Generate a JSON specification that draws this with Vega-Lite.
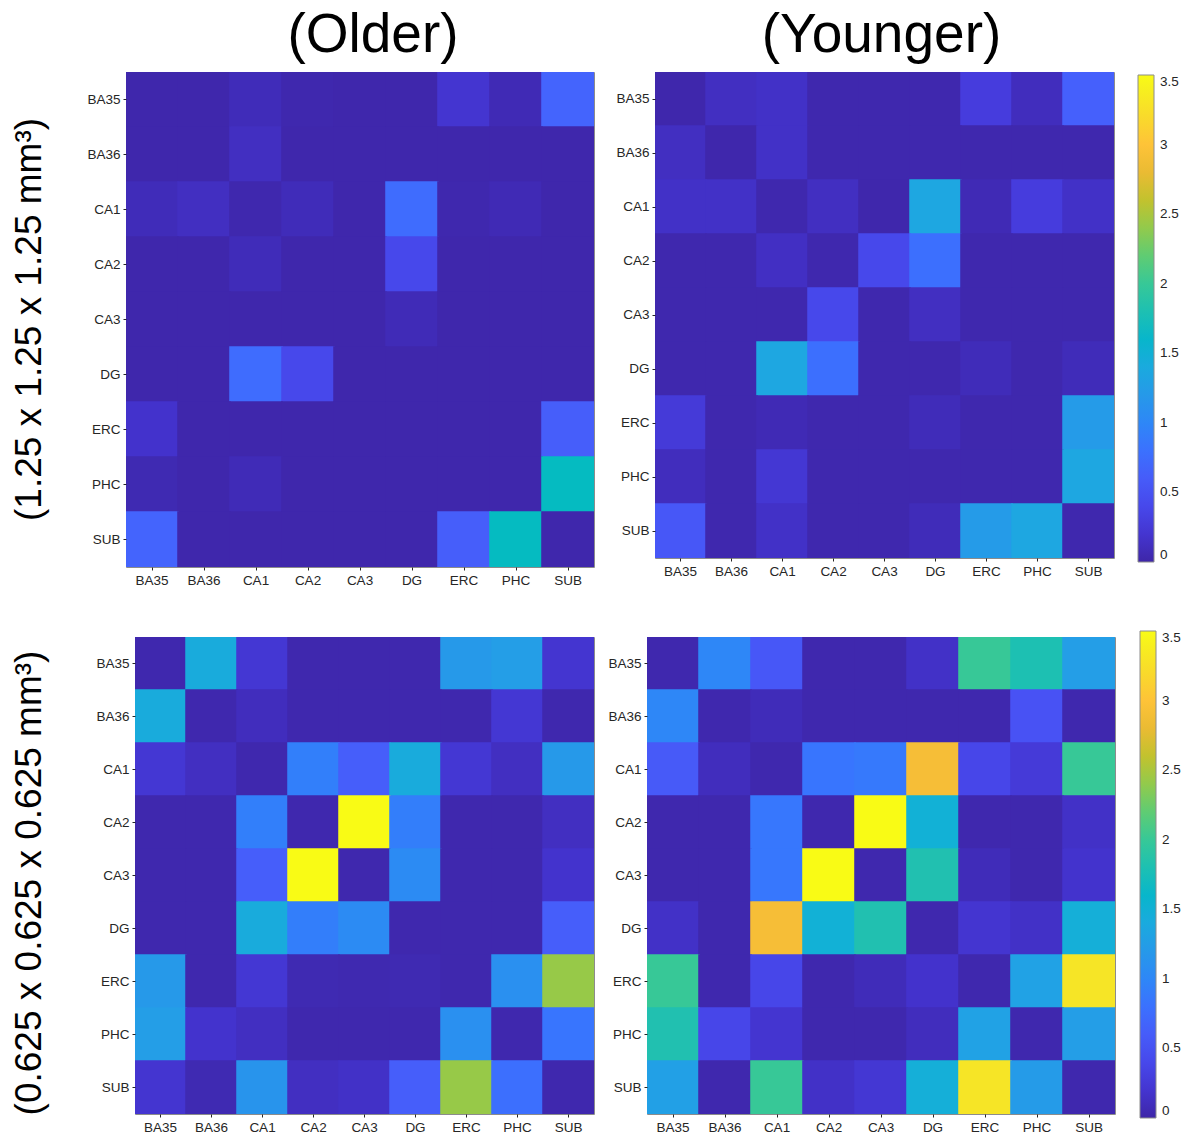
{
  "$schema": "https://vega.github.io/schema/vega-lite/v6.json",
  "background": "white",
  "padding": {"left": 3, "top": 7, "right": 5, "bottom": 5},
  "config": {
    "view": {"stroke": "#8c8c8c", "strokeWidth": 1},
    "axis": {"labelFont": "Liberation Sans", "labelFontSize": 13.5, "labelColor": "#262626", "tickColor": "#262626", "tickSize": 3, "domain": false, "grid": false, "labelPadding": 3},
    "title": {"font": "Liberation Sans", "fontSize": 55, "fontWeight": "normal", "color": "#000000"},
    "rect": {"strokeWidth": 0}
  },
  "datasets": {
    "tl": [
      {"r":"BA35","c":"BA35","v":0.02},{"r":"BA35","c":"BA36","v":0.02},{"r":"BA35","c":"CA1","v":0.08},{"r":"BA35","c":"CA2","v":0.03},{"r":"BA35","c":"CA3","v":0.02},{"r":"BA35","c":"DG","v":0.02},{"r":"BA35","c":"ERC","v":0.2},{"r":"BA35","c":"PHC","v":0.06},{"r":"BA35","c":"SUB","v":0.68},
      {"r":"BA36","c":"BA35","v":0.02},{"r":"BA36","c":"BA36","v":0.02},{"r":"BA36","c":"CA1","v":0.12},{"r":"BA36","c":"CA2","v":0.02},{"r":"BA36","c":"CA3","v":0.02},{"r":"BA36","c":"DG","v":0.02},{"r":"BA36","c":"ERC","v":0.02},{"r":"BA36","c":"PHC","v":0.02},{"r":"BA36","c":"SUB","v":0.02},
      {"r":"CA1","c":"BA35","v":0.08},{"r":"CA1","c":"BA36","v":0.12},{"r":"CA1","c":"CA1","v":0.03},{"r":"CA1","c":"CA2","v":0.08},{"r":"CA1","c":"CA3","v":0.02},{"r":"CA1","c":"DG","v":0.75},{"r":"CA1","c":"ERC","v":0.03},{"r":"CA1","c":"PHC","v":0.06},{"r":"CA1","c":"SUB","v":0.02},
      {"r":"CA2","c":"BA35","v":0.02},{"r":"CA2","c":"BA36","v":0.02},{"r":"CA2","c":"CA1","v":0.08},{"r":"CA2","c":"CA2","v":0.02},{"r":"CA2","c":"CA3","v":0.02},{"r":"CA2","c":"DG","v":0.4},{"r":"CA2","c":"ERC","v":0.02},{"r":"CA2","c":"PHC","v":0.02},{"r":"CA2","c":"SUB","v":0.02},
      {"r":"CA3","c":"BA35","v":0.02},{"r":"CA3","c":"BA36","v":0.02},{"r":"CA3","c":"CA1","v":0.02},{"r":"CA3","c":"CA2","v":0.02},{"r":"CA3","c":"CA3","v":0.02},{"r":"CA3","c":"DG","v":0.07},{"r":"CA3","c":"ERC","v":0.02},{"r":"CA3","c":"PHC","v":0.02},{"r":"CA3","c":"SUB","v":0.02},
      {"r":"DG","c":"BA35","v":0.02},{"r":"DG","c":"BA36","v":0.02},{"r":"DG","c":"CA1","v":0.75},{"r":"DG","c":"CA2","v":0.4},{"r":"DG","c":"CA3","v":0.02},{"r":"DG","c":"DG","v":0.02},{"r":"DG","c":"ERC","v":0.02},{"r":"DG","c":"PHC","v":0.02},{"r":"DG","c":"SUB","v":0.02},
      {"r":"ERC","c":"BA35","v":0.17},{"r":"ERC","c":"BA36","v":0.02},{"r":"ERC","c":"CA1","v":0.02},{"r":"ERC","c":"CA2","v":0.02},{"r":"ERC","c":"CA3","v":0.02},{"r":"ERC","c":"DG","v":0.02},{"r":"ERC","c":"ERC","v":0.02},{"r":"ERC","c":"PHC","v":0.02},{"r":"ERC","c":"SUB","v":0.62},
      {"r":"PHC","c":"BA35","v":0.05},{"r":"PHC","c":"BA36","v":0.02},{"r":"PHC","c":"CA1","v":0.07},{"r":"PHC","c":"CA2","v":0.02},{"r":"PHC","c":"CA3","v":0.02},{"r":"PHC","c":"DG","v":0.02},{"r":"PHC","c":"ERC","v":0.02},{"r":"PHC","c":"PHC","v":0.02},{"r":"PHC","c":"SUB","v":1.68},
      {"r":"SUB","c":"BA35","v":0.68},{"r":"SUB","c":"BA36","v":0.02},{"r":"SUB","c":"CA1","v":0.02},{"r":"SUB","c":"CA2","v":0.02},{"r":"SUB","c":"CA3","v":0.02},{"r":"SUB","c":"DG","v":0.02},{"r":"SUB","c":"ERC","v":0.62},{"r":"SUB","c":"PHC","v":1.68},{"r":"SUB","c":"SUB","v":0.02}
    ],
    "tr": [
      {"r":"BA35","c":"BA35","v":0.02},{"r":"BA35","c":"BA36","v":0.12},{"r":"BA35","c":"CA1","v":0.15},{"r":"BA35","c":"CA2","v":0.03},{"r":"BA35","c":"CA3","v":0.03},{"r":"BA35","c":"DG","v":0.03},{"r":"BA35","c":"ERC","v":0.28},{"r":"BA35","c":"PHC","v":0.1},{"r":"BA35","c":"SUB","v":0.64},
      {"r":"BA36","c":"BA35","v":0.12},{"r":"BA36","c":"BA36","v":0.02},{"r":"BA36","c":"CA1","v":0.15},{"r":"BA36","c":"CA2","v":0.03},{"r":"BA36","c":"CA3","v":0.03},{"r":"BA36","c":"DG","v":0.03},{"r":"BA36","c":"ERC","v":0.03},{"r":"BA36","c":"PHC","v":0.03},{"r":"BA36","c":"SUB","v":0.03},
      {"r":"CA1","c":"BA35","v":0.15},{"r":"CA1","c":"BA36","v":0.15},{"r":"CA1","c":"CA1","v":0.03},{"r":"CA1","c":"CA2","v":0.12},{"r":"CA1","c":"CA3","v":0.02},{"r":"CA1","c":"DG","v":1.36},{"r":"CA1","c":"ERC","v":0.06},{"r":"CA1","c":"PHC","v":0.28},{"r":"CA1","c":"SUB","v":0.15},
      {"r":"CA2","c":"BA35","v":0.03},{"r":"CA2","c":"BA36","v":0.03},{"r":"CA2","c":"CA1","v":0.13},{"r":"CA2","c":"CA2","v":0.03},{"r":"CA2","c":"CA3","v":0.4},{"r":"CA2","c":"DG","v":0.78},{"r":"CA2","c":"ERC","v":0.03},{"r":"CA2","c":"PHC","v":0.03},{"r":"CA2","c":"SUB","v":0.03},
      {"r":"CA3","c":"BA35","v":0.03},{"r":"CA3","c":"BA36","v":0.03},{"r":"CA3","c":"CA1","v":0.03},{"r":"CA3","c":"CA2","v":0.4},{"r":"CA3","c":"CA3","v":0.03},{"r":"CA3","c":"DG","v":0.12},{"r":"CA3","c":"ERC","v":0.03},{"r":"CA3","c":"PHC","v":0.03},{"r":"CA3","c":"SUB","v":0.03},
      {"r":"DG","c":"BA35","v":0.03},{"r":"DG","c":"BA36","v":0.03},{"r":"DG","c":"CA1","v":1.36},{"r":"DG","c":"CA2","v":0.78},{"r":"DG","c":"CA3","v":0.03},{"r":"DG","c":"DG","v":0.03},{"r":"DG","c":"ERC","v":0.08},{"r":"DG","c":"PHC","v":0.03},{"r":"DG","c":"SUB","v":0.08},
      {"r":"ERC","c":"BA35","v":0.25},{"r":"ERC","c":"BA36","v":0.03},{"r":"ERC","c":"CA1","v":0.06},{"r":"ERC","c":"CA2","v":0.03},{"r":"ERC","c":"CA3","v":0.03},{"r":"ERC","c":"DG","v":0.08},{"r":"ERC","c":"ERC","v":0.03},{"r":"ERC","c":"PHC","v":0.03},{"r":"ERC","c":"SUB","v":1.22},
      {"r":"PHC","c":"BA35","v":0.1},{"r":"PHC","c":"BA36","v":0.03},{"r":"PHC","c":"CA1","v":0.22},{"r":"PHC","c":"CA2","v":0.03},{"r":"PHC","c":"CA3","v":0.03},{"r":"PHC","c":"DG","v":0.03},{"r":"PHC","c":"ERC","v":0.03},{"r":"PHC","c":"PHC","v":0.03},{"r":"PHC","c":"SUB","v":1.36},
      {"r":"SUB","c":"BA35","v":0.55},{"r":"SUB","c":"BA36","v":0.03},{"r":"SUB","c":"CA1","v":0.15},{"r":"SUB","c":"CA2","v":0.03},{"r":"SUB","c":"CA3","v":0.03},{"r":"SUB","c":"DG","v":0.08},{"r":"SUB","c":"ERC","v":1.22},{"r":"SUB","c":"PHC","v":1.36},{"r":"SUB","c":"SUB","v":0.03}
    ],
    "bl": [
      {"r":"BA35","c":"BA35","v":0.03},{"r":"BA35","c":"BA36","v":1.42},{"r":"BA35","c":"CA1","v":0.22},{"r":"BA35","c":"CA2","v":0.03},{"r":"BA35","c":"CA3","v":0.03},{"r":"BA35","c":"DG","v":0.03},{"r":"BA35","c":"ERC","v":1.2},{"r":"BA35","c":"PHC","v":1.25},{"r":"BA35","c":"SUB","v":0.2},
      {"r":"BA36","c":"BA35","v":1.42},{"r":"BA36","c":"BA36","v":0.03},{"r":"BA36","c":"CA1","v":0.1},{"r":"BA36","c":"CA2","v":0.03},{"r":"BA36","c":"CA3","v":0.03},{"r":"BA36","c":"DG","v":0.03},{"r":"BA36","c":"ERC","v":0.03},{"r":"BA36","c":"PHC","v":0.22},{"r":"BA36","c":"SUB","v":0.03},
      {"r":"CA1","c":"BA35","v":0.22},{"r":"CA1","c":"BA36","v":0.12},{"r":"CA1","c":"CA1","v":0.03},{"r":"CA1","c":"CA2","v":0.93},{"r":"CA1","c":"CA3","v":0.62},{"r":"CA1","c":"DG","v":1.42},{"r":"CA1","c":"ERC","v":0.22},{"r":"CA1","c":"PHC","v":0.12},{"r":"CA1","c":"SUB","v":1.2},
      {"r":"CA2","c":"BA35","v":0.03},{"r":"CA2","c":"BA36","v":0.03},{"r":"CA2","c":"CA1","v":0.93},{"r":"CA2","c":"CA2","v":0.03},{"r":"CA2","c":"CA3","v":3.5},{"r":"CA2","c":"DG","v":0.92},{"r":"CA2","c":"ERC","v":0.03},{"r":"CA2","c":"PHC","v":0.03},{"r":"CA2","c":"SUB","v":0.12},
      {"r":"CA3","c":"BA35","v":0.03},{"r":"CA3","c":"BA36","v":0.03},{"r":"CA3","c":"CA1","v":0.62},{"r":"CA3","c":"CA2","v":3.5},{"r":"CA3","c":"CA3","v":0.03},{"r":"CA3","c":"DG","v":1.05},{"r":"CA3","c":"ERC","v":0.03},{"r":"CA3","c":"PHC","v":0.03},{"r":"CA3","c":"SUB","v":0.18},
      {"r":"DG","c":"BA35","v":0.03},{"r":"DG","c":"BA36","v":0.03},{"r":"DG","c":"CA1","v":1.42},{"r":"DG","c":"CA2","v":0.92},{"r":"DG","c":"CA3","v":1.05},{"r":"DG","c":"DG","v":0.03},{"r":"DG","c":"ERC","v":0.03},{"r":"DG","c":"PHC","v":0.03},{"r":"DG","c":"SUB","v":0.62},
      {"r":"ERC","c":"BA35","v":1.2},{"r":"ERC","c":"BA36","v":0.03},{"r":"ERC","c":"CA1","v":0.22},{"r":"ERC","c":"CA2","v":0.05},{"r":"ERC","c":"CA3","v":0.04},{"r":"ERC","c":"DG","v":0.05},{"r":"ERC","c":"ERC","v":0.03},{"r":"ERC","c":"PHC","v":1.1},{"r":"ERC","c":"SUB","v":2.42},
      {"r":"PHC","c":"BA35","v":1.25},{"r":"PHC","c":"BA36","v":0.18},{"r":"PHC","c":"CA1","v":0.12},{"r":"PHC","c":"CA2","v":0.03},{"r":"PHC","c":"CA3","v":0.03},{"r":"PHC","c":"DG","v":0.03},{"r":"PHC","c":"ERC","v":1.1},{"r":"PHC","c":"PHC","v":0.03},{"r":"PHC","c":"SUB","v":0.83},
      {"r":"SUB","c":"BA35","v":0.2},{"r":"SUB","c":"BA36","v":0.05},{"r":"SUB","c":"CA1","v":1.15},{"r":"SUB","c":"CA2","v":0.12},{"r":"SUB","c":"CA3","v":0.15},{"r":"SUB","c":"DG","v":0.62},{"r":"SUB","c":"ERC","v":2.42},{"r":"SUB","c":"PHC","v":0.78},{"r":"SUB","c":"SUB","v":0.03}
    ],
    "br": [
      {"r":"BA35","c":"BA35","v":0.03},{"r":"BA35","c":"BA36","v":1.0},{"r":"BA35","c":"CA1","v":0.55},{"r":"BA35","c":"CA2","v":0.03},{"r":"BA35","c":"CA3","v":0.03},{"r":"BA35","c":"DG","v":0.15},{"r":"BA35","c":"ERC","v":2.0},{"r":"BA35","c":"PHC","v":1.8},{"r":"BA35","c":"SUB","v":1.25},
      {"r":"BA36","c":"BA35","v":1.0},{"r":"BA36","c":"BA36","v":0.03},{"r":"BA36","c":"CA1","v":0.08},{"r":"BA36","c":"CA2","v":0.03},{"r":"BA36","c":"CA3","v":0.03},{"r":"BA36","c":"DG","v":0.03},{"r":"BA36","c":"ERC","v":0.03},{"r":"BA36","c":"PHC","v":0.5},{"r":"BA36","c":"SUB","v":0.03},
      {"r":"CA1","c":"BA35","v":0.58},{"r":"CA1","c":"BA36","v":0.1},{"r":"CA1","c":"CA1","v":0.03},{"r":"CA1","c":"CA2","v":0.83},{"r":"CA1","c":"CA3","v":0.87},{"r":"CA1","c":"DG","v":2.9},{"r":"CA1","c":"ERC","v":0.38},{"r":"CA1","c":"PHC","v":0.25},{"r":"CA1","c":"SUB","v":2.0},
      {"r":"CA2","c":"BA35","v":0.03},{"r":"CA2","c":"BA36","v":0.03},{"r":"CA2","c":"CA1","v":0.85},{"r":"CA2","c":"CA2","v":0.03},{"r":"CA2","c":"CA3","v":3.5},{"r":"CA2","c":"DG","v":1.5},{"r":"CA2","c":"ERC","v":0.03},{"r":"CA2","c":"PHC","v":0.03},{"r":"CA2","c":"SUB","v":0.15},
      {"r":"CA3","c":"BA35","v":0.03},{"r":"CA3","c":"BA36","v":0.03},{"r":"CA3","c":"CA1","v":0.85},{"r":"CA3","c":"CA2","v":3.5},{"r":"CA3","c":"CA3","v":0.03},{"r":"CA3","c":"DG","v":1.82},{"r":"CA3","c":"ERC","v":0.08},{"r":"CA3","c":"PHC","v":0.03},{"r":"CA3","c":"SUB","v":0.18},
      {"r":"DG","c":"BA35","v":0.15},{"r":"DG","c":"BA36","v":0.03},{"r":"DG","c":"CA1","v":2.9},{"r":"DG","c":"CA2","v":1.5},{"r":"DG","c":"CA3","v":1.82},{"r":"DG","c":"DG","v":0.03},{"r":"DG","c":"ERC","v":0.2},{"r":"DG","c":"PHC","v":0.15},{"r":"DG","c":"SUB","v":1.47},
      {"r":"ERC","c":"BA35","v":2.0},{"r":"ERC","c":"BA36","v":0.03},{"r":"ERC","c":"CA1","v":0.38},{"r":"ERC","c":"CA2","v":0.03},{"r":"ERC","c":"CA3","v":0.08},{"r":"ERC","c":"DG","v":0.17},{"r":"ERC","c":"ERC","v":0.03},{"r":"ERC","c":"PHC","v":1.3},{"r":"ERC","c":"SUB","v":3.3},
      {"r":"PHC","c":"BA35","v":1.82},{"r":"PHC","c":"BA36","v":0.38},{"r":"PHC","c":"CA1","v":0.2},{"r":"PHC","c":"CA2","v":0.03},{"r":"PHC","c":"CA3","v":0.03},{"r":"PHC","c":"DG","v":0.1},{"r":"PHC","c":"ERC","v":1.3},{"r":"PHC","c":"PHC","v":0.03},{"r":"PHC","c":"SUB","v":1.25},
      {"r":"SUB","c":"BA35","v":1.28},{"r":"SUB","c":"BA36","v":0.03},{"r":"SUB","c":"CA1","v":2.0},{"r":"SUB","c":"CA2","v":0.15},{"r":"SUB","c":"CA3","v":0.22},{"r":"SUB","c":"DG","v":1.47},{"r":"SUB","c":"ERC","v":3.3},{"r":"SUB","c":"PHC","v":1.22},{"r":"SUB","c":"SUB","v":0.03}
    ]
  },
  "resolve": {"scale": {"color": "independent"}, "legend": {"color": "independent"}},
  "spacing": 43,
  "vconcat": [
    {
      "spacing": 29,
      "resolve": {"scale": {"color": "independent"}, "legend": {"color": "independent"}},
      "hconcat": [
        {
          "width": 54, "height": 495,
          "view": {"stroke": null},
          "data": {"values": [{"label": "(1.25 x 1.25 x 1.25 mm³)"}]},
          "mark": {"type": "text", "angle": 270, "font": "Liberation Sans", "fontSize": 37, "color": "#000000", "align": "center", "baseline": "middle"},
          "encoding": {"text": {"field": "label", "type": "nominal"}}
        },
        {
          "spacing": 20,
          "resolve": {"scale": {"color": "independent"}, "legend": {"color": "independent"}},
          "hconcat": [
            {
              "width": 468, "height": 495,
              "title": {"text": "(Older)", "offset": 8, "dx": 13},
              "data": {"name": "tl"},
              "mark": {"type": "rect", "width": {"band": 1.03}, "height": {"band": 1.03}, "clip": true},
              "encoding": {
                "x": {"field": "c", "type": "nominal", "sort": ["BA35","BA36","CA1","CA2","CA3","DG","ERC","PHC","SUB"], "axis": {"title": null, "labelAngle": 0}},
                "y": {"field": "r", "type": "nominal", "sort": ["BA35","BA36","CA1","CA2","CA3","DG","ERC","PHC","SUB"], "axis": {"title": null}},
                "color": {"field": "v", "type": "quantitative", "legend": null,
                  "scale": {"domain": [0,0.1667,0.3333,0.5,0.6667,0.8333,1,1.1667,1.3333,1.5,1.6667,1.8333,2,2.1667,2.3333,2.5,2.6667,2.8333,3,3.1667,3.3333,3.5],
                    "range": ["#3e26a8","#4332cb","#4741e5","#4852f4","#4563fd","#3875fe","#2e87f7","#2796eb","#20a5e3","#12b1d6","#02bac3","#24c1ae","#37c897","#57cc7a","#81cc59","#abc739","#d1bf27","#f0ba36","#fec338","#fad62d","#f5e924","#f9fb15"], "interpolate": "rgb"}}
              }
            },
            {
              "width": 459, "height": 486,
              "title": {"text": "(Younger)", "offset": 8, "dx": -3},
              "data": {"name": "tr"},
              "mark": {"type": "rect", "width": {"band": 1.03}, "height": {"band": 1.03}, "clip": true},
              "encoding": {
                "x": {"field": "c", "type": "nominal", "sort": ["BA35","BA36","CA1","CA2","CA3","DG","ERC","PHC","SUB"], "axis": {"title": null, "labelAngle": 0}},
                "y": {"field": "r", "type": "nominal", "sort": ["BA35","BA36","CA1","CA2","CA3","DG","ERC","PHC","SUB"], "axis": {"title": null}},
                "color": {"field": "v", "type": "quantitative",
                  "legend": {"orient": "none", "legendX": 483, "legendY": 3, "direction": "vertical", "gradientLength": 487, "gradientThickness": 16, "title": null, "values": [0,0.5,1,1.5,2,2.5,3,3.5], "format": "~g", "labelFont": "Liberation Sans", "labelFontSize": 13.5, "labelColor": "#262626", "gradientStrokeColor": "#8c8c8c", "gradientStrokeWidth": 1, "labelOffset": 6},
                  "scale": {"domain": [0,0.1667,0.3333,0.5,0.6667,0.8333,1,1.1667,1.3333,1.5,1.6667,1.8333,2,2.1667,2.3333,2.5,2.6667,2.8333,3,3.1667,3.3333,3.5],
                    "range": ["#3e26a8","#4332cb","#4741e5","#4852f4","#4563fd","#3875fe","#2e87f7","#2796eb","#20a5e3","#12b1d6","#02bac3","#24c1ae","#37c897","#57cc7a","#81cc59","#abc739","#d1bf27","#f0ba36","#fec338","#fad62d","#f5e924","#f9fb15"], "interpolate": "rgb"}}
              }
            }
          ]
        }
      ]
    },
    {
      "spacing": 38,
      "resolve": {"scale": {"color": "independent"}, "legend": {"color": "independent"}},
      "hconcat": [
        {
          "width": 54, "height": 492,
          "view": {"stroke": null},
          "data": {"values": [{"label": "(0.625 x 0.625 x 0.625 mm³)"}]},
          "mark": {"type": "text", "angle": 270, "font": "Liberation Sans", "fontSize": 37, "color": "#000000", "align": "center", "baseline": "middle"},
          "encoding": {"text": {"field": "label", "type": "nominal"}}
        },
        {
          "spacing": 12,
          "resolve": {"scale": {"color": "independent"}, "legend": {"color": "independent"}},
          "hconcat": [
            {
              "width": 459, "height": 477,
              "data": {"name": "bl"},
              "mark": {"type": "rect", "width": {"band": 1.03}, "height": {"band": 1.03}, "clip": true},
              "encoding": {
                "x": {"field": "c", "type": "nominal", "sort": ["BA35","BA36","CA1","CA2","CA3","DG","ERC","PHC","SUB"], "axis": {"title": null, "labelAngle": 0}},
                "y": {"field": "r", "type": "nominal", "sort": ["BA35","BA36","CA1","CA2","CA3","DG","ERC","PHC","SUB"], "axis": {"title": null}},
                "color": {"field": "v", "type": "quantitative", "legend": null,
                  "scale": {"domain": [0,0.1667,0.3333,0.5,0.6667,0.8333,1,1.1667,1.3333,1.5,1.6667,1.8333,2,2.1667,2.3333,2.5,2.6667,2.8333,3,3.1667,3.3333,3.5],
                    "range": ["#3e26a8","#4332cb","#4741e5","#4852f4","#4563fd","#3875fe","#2e87f7","#2796eb","#20a5e3","#12b1d6","#02bac3","#24c1ae","#37c897","#57cc7a","#81cc59","#abc739","#d1bf27","#f0ba36","#fec338","#fad62d","#f5e924","#f9fb15"], "interpolate": "rgb"}}
              }
            },
            {
              "width": 468, "height": 477,
              "data": {"name": "br"},
              "mark": {"type": "rect", "width": {"band": 1.03}, "height": {"band": 1.03}, "clip": true},
              "encoding": {
                "x": {"field": "c", "type": "nominal", "sort": ["BA35","BA36","CA1","CA2","CA3","DG","ERC","PHC","SUB"], "axis": {"title": null, "labelAngle": 0}},
                "y": {"field": "r", "type": "nominal", "sort": ["BA35","BA36","CA1","CA2","CA3","DG","ERC","PHC","SUB"], "axis": {"title": null}},
                "color": {"field": "v", "type": "quantitative",
                  "legend": {"orient": "none", "legendX": 493, "legendY": -6, "direction": "vertical", "gradientLength": 487, "gradientThickness": 16, "title": null, "values": [0,0.5,1,1.5,2,2.5,3,3.5], "format": "~g", "labelFont": "Liberation Sans", "labelFontSize": 13.5, "labelColor": "#262626", "gradientStrokeColor": "#8c8c8c", "gradientStrokeWidth": 1, "labelOffset": 6},
                  "scale": {"domain": [0,0.1667,0.3333,0.5,0.6667,0.8333,1,1.1667,1.3333,1.5,1.6667,1.8333,2,2.1667,2.3333,2.5,2.6667,2.8333,3,3.1667,3.3333,3.5],
                    "range": ["#3e26a8","#4332cb","#4741e5","#4852f4","#4563fd","#3875fe","#2e87f7","#2796eb","#20a5e3","#12b1d6","#02bac3","#24c1ae","#37c897","#57cc7a","#81cc59","#abc739","#d1bf27","#f0ba36","#fec338","#fad62d","#f5e924","#f9fb15"], "interpolate": "rgb"}}
              }
            }
          ]
        }
      ]
    }
  ]
}
